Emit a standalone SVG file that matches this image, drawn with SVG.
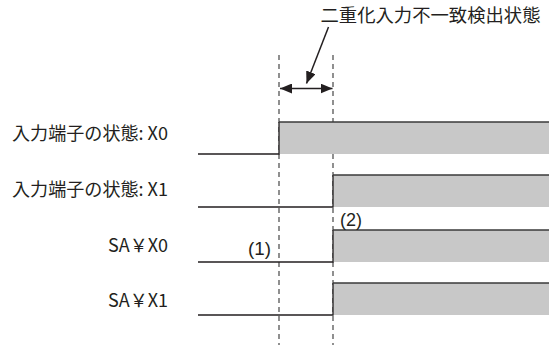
<svg xmlns="http://www.w3.org/2000/svg" width="549" height="347" viewBox="0 0 549 347">
<defs>
<style>
.lbl{font-family:"Noto Sans CJK JP","Noto Sans",sans-serif;font-size:18px;fill:#231f20;text-anchor:end}
.ttl{font-family:"Noto Sans CJK JP","Noto Sans",sans-serif;font-size:18px;fill:#231f20}
.num{font-family:"Liberation Sans",Arial,sans-serif;font-size:18px;fill:#231f20}
.low{fill:none;stroke:#231f20;stroke-width:1.3}
.fill{fill:#c8c8c8;stroke:none}
.high{fill:none;stroke:#3a3a3a;stroke-width:1.5}
.dash{fill:none;stroke:#555;stroke-width:1.3;stroke-dasharray:5 4}
.arr{fill:none;stroke:#231f20;stroke-width:1.5}
</style>
<marker id="ah" viewBox="0 0 12 10" refX="12" refY="5" markerWidth="12" markerHeight="10" markerUnits="userSpaceOnUse" orient="auto-start-reverse">
<path d="M0,0 L12,5 L0,10 Z" fill="#231f20"/>
</marker>
</defs>
<rect width="549" height="347" fill="#fff"/>

<g id="guides">
<line class="dash" x1="279" y1="55" x2="279" y2="345"/>
<line class="dash" x1="333" y1="55" x2="333" y2="345"/>
</g>

<g id="sig-x0">
<text class="lbl" x="168" y="140" textLength="156" lengthAdjust="spacingAndGlyphs">入力端子の状態: X0</text>
<rect class="fill" x="279" y="122" width="270" height="32"/>
<polyline class="low" points="198,154 279,154 279,122"/>
<line class="high" x1="279" y1="122" x2="549" y2="122"/>
</g>

<g id="sig-x1">
<text class="lbl" x="168" y="196" textLength="156" lengthAdjust="spacingAndGlyphs">入力端子の状態: X1</text>
<rect class="fill" x="333" y="175" width="216" height="32"/>
<polyline class="low" points="198,207 333,207 333,175"/>
<line class="high" x1="333" y1="175" x2="549" y2="175"/>
</g>

<g id="sig-sa-x0">
<text class="lbl" x="168" y="252" textLength="60" lengthAdjust="spacingAndGlyphs">SA￥X0</text>
<rect class="fill" x="333" y="230" width="216" height="32"/>
<polyline class="low" points="198,262 333,262 333,230"/>
<line class="high" x1="333" y1="230" x2="549" y2="230"/>
<text class="num" x="248" y="255" textLength="23" lengthAdjust="spacingAndGlyphs">(1)</text>
<text class="num" x="340" y="226" textLength="22" lengthAdjust="spacingAndGlyphs">(2)</text>
</g>

<g id="sig-sa-x1">
<text class="lbl" x="168" y="307" textLength="60" lengthAdjust="spacingAndGlyphs">SA￥X1</text>
<rect class="fill" x="333" y="283" width="216" height="32"/>
<polyline class="low" points="198,315 333,315 333,283"/>
<line class="high" x1="333" y1="283" x2="549" y2="283"/>
</g>

<g id="title">
<text class="ttl" x="320.5" y="22" textLength="220" lengthAdjust="spacingAndGlyphs">二重化入力不一致検出状態</text>
</g>

<g id="connectors">
<line class="arr" x1="280" y1="88.5" x2="332.5" y2="88.5" marker-start="url(#ah)" marker-end="url(#ah)"/>
<line class="arr" x1="328.5" y1="27" x2="306.5" y2="83.5" marker-end="url(#ah)"/>
</g>
</svg>
